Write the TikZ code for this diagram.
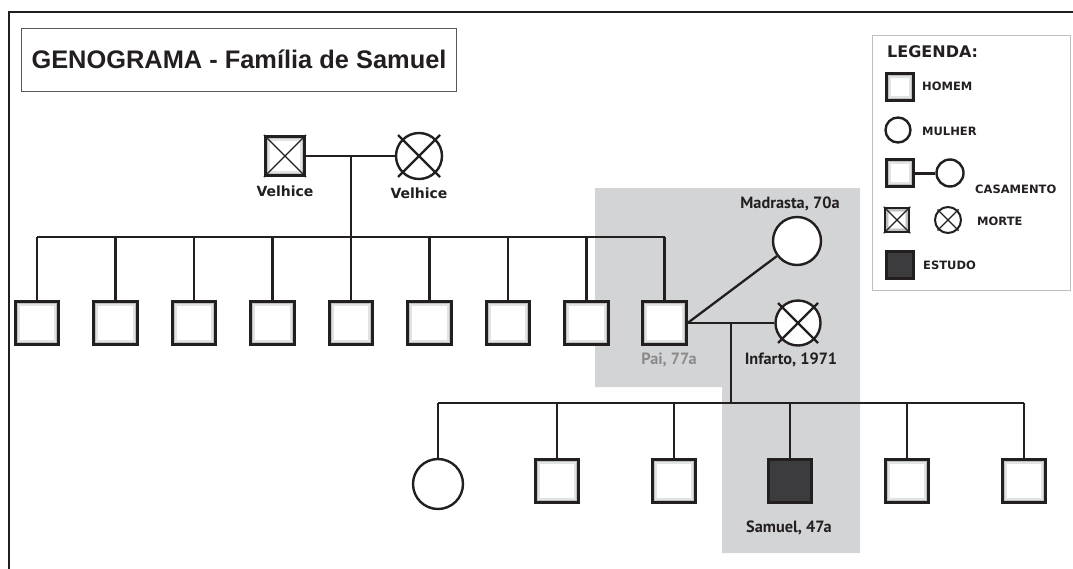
\documentclass[tikz,border=0pt]{standalone}
\usepackage{fontspec}
\setmainfont{DejaVu Sans}
\newfontfamily\titlefont{Liberation Sans}
\newfontfamily\ptfont{PT Sans}
\definecolor{shadegray}{HTML}{D3D4D6}
\definecolor{bandgray}{HTML}{BFC0C2}
\definecolor{bandlight}{HTML}{E2E3E4}
\definecolor{dark}{HTML}{3C3C3E}
\definecolor{paigray}{HTML}{8A8A8A}
\definecolor{ink}{HTML}{231F20}
\tikzset{
  conn/.style={draw=ink, line width=2.3pt},
  male/.style={draw=ink, line width=2.7pt, rectangle, minimum size=#1, inner sep=0pt, fill=bandgray,
    path picture={
      \fill[bandlight] ([shift={(2.6pt,2.6pt)}]path picture bounding box.south west) rectangle ([shift={(-2.6pt,-2.6pt)}]path picture bounding box.north east);
      \fill[white] ([shift={(4.4pt,4.4pt)}]path picture bounding box.south west) rectangle ([shift={(-4.4pt,-4.4pt)}]path picture bounding box.north east);}},
  female/.style={draw=ink, line width=2.4pt, circle, minimum size=#1, inner sep=0pt, fill=white},
  study/.style={draw=ink, line width=2.7pt, rectangle, minimum size=#1, inner sep=0pt, fill=dark},
  xline/.style={draw=ink, line width=1.6pt},
  lbl/.style={font=\bfseries\fontsize{14}{16}\selectfont, text=ink, inner sep=0pt},
  plbl/.style={font=\ptfont\bfseries\fontsize{16.3}{18}\selectfont, text=ink, inner sep=0pt},
  leg/.style={font=\bfseries\fontsize{11.5}{13}\selectfont, text=ink, inner sep=0pt, anchor=west},
}
\begin{document}
\begin{tikzpicture}[x=1pt,y=-1pt]
\useasboundingbox (0,0) rectangle (1073,568);
% shaded focus area
\fill[shadegray] (595,188) -- (860,188) -- (860,553) -- (722,553) -- (722,387) -- (595,387) -- cycle;
% outer frame
\draw[draw=ink, line width=2.4pt] (9,570) -- (9,12) -- (1075,12);
% title
\node[draw=black!65, line width=1pt, minimum width=435pt, minimum height=63pt, inner sep=0pt,
  font=\titlefont\bfseries\fontsize{25.4}{28}\selectfont, text=ink] (title) at (239,59.5) {GENOGRAMA - Família de Samuel};
% legend
\node[draw=black!25, line width=1pt, minimum width=198pt, minimum height=255pt, inner sep=0pt] (legbox) at (971,162.5) {};
\node[font=\bfseries\fontsize{16}{18}\selectfont, text=ink, inner sep=0pt, anchor=west] (legt) at (887,52) {LEGENDA:};
\node[male=27pt] (lh) at (900,87) {};
\node[leg] (lht) at (922,86) {HOMEM};
\node[female=25pt] (lm) at (898,130) {};
\node[leg] (lmt) at (922,131) {MULHER};
\node[male=27pt] (lcs) at (900,173) {};
\node[female=27pt] (lcc) at (950,173) {};
\draw[draw=ink, line width=3pt] (lcs.east) -- (lcc.west);
\node[leg] (lct) at (975,189) {CASAMENTO};
\node[male=24pt] (lds) at (897,220) {};
\draw[xline, line width=1.1pt] (lds.north west) -- (lds.south east) (lds.south west) -- (lds.north east);
\node[female=26pt, line width=2pt] (ldc) at (948,220) {};
\draw[xline, line width=1.3pt] ([shift={(-10.5pt,-10.5pt)}]ldc.center) -- ([shift={(10.5pt,10.5pt)}]ldc.center)
  ([shift={(-10.5pt,10.5pt)}]ldc.center) -- ([shift={(10.5pt,-10.5pt)}]ldc.center);
\node[leg] (ldt) at (977,221) {MORTE};
\node[study=27pt] (le) at (900,265) {};
\node[leg] (let) at (923,265) {ESTUDO};
% grandparents
\node[male=39.5pt] (gf) at (285,156) {};
\draw[xline, line width=1.3pt] (gf.north west) -- (gf.south east) (gf.south west) -- (gf.north east);
\node[female=46pt] (gm) at (419,156) {};
\draw[xline, line width=2.2pt] ([shift={(-21pt,-21pt)}]gm.center) -- ([shift={(21pt,21pt)}]gm.center)
  ([shift={(-21pt,21pt)}]gm.center) -- ([shift={(21pt,-21pt)}]gm.center);
\node[lbl] (gft) at (285,191) {Velhice};
\node[lbl] (gmt) at (419,193) {Velhice};
\draw[conn] (gf.east) -- (gm.west);
\coordinate (gp) at (351,156);
\coordinate (s1) at (351,237);
\draw[conn] (gp) -- (s1);
% first generation children
\foreach \i/\x in {1/37,2/115.5,3/194,4/272.5,5/351,6/429.5,7/508,8/586.5,9/664.5} {
  \node[male=43.5pt] (c\i) at (\x,323) {};
  \draw[conn] (c\i.north) -- (c\i.north |- s1);
}
\draw[conn] (c1.north |- s1) -- (c9.north |- s1);
% father's partners
\node[female=48pt] (mad) at (797,241) {};
\node[plbl] (madt) at (790,204) {Madrasta, 70a};
\draw[conn] (c9.east) -- (mad);
\node[female=45pt, fill=white] (inf) at (798,323) {};
\draw[xline, line width=2.2pt] ([shift={(-20pt,-20pt)}]inf.center) -- ([shift={(20pt,20pt)}]inf.center)
  ([shift={(-20pt,20pt)}]inf.center) -- ([shift={(20pt,-20pt)}]inf.center);
\draw[conn] (c9.east) -- (inf.west);
\node[plbl, text=paigray] (pait) at (669,360) {Pai, 77a};
\node[plbl] (inft) at (791,360) {Infarto, 1971};
\coordinate (p2) at (731,323);
\coordinate (s2) at (731,403);
\draw[conn] (p2) -- (s2);
% second generation
\node[female=50pt] (d1) at (438,484) {};
\foreach \i/\x in {2/557,3/674,5/907,6/1024} {
  \node[male=43.5pt] (d\i) at (\x,481) {};
}
\node[study=43.5pt] (d4) at (790,481) {};
\foreach \i in {1,...,6} {
  \draw[conn] (d\i.north) -- (d\i.north |- s2);
}
\draw[conn] (d1.north |- s2) -- (d6.north |- s2);
\node[plbl] (samt) at (789,528) {Samuel, 47a};
\end{tikzpicture}
\end{document}
